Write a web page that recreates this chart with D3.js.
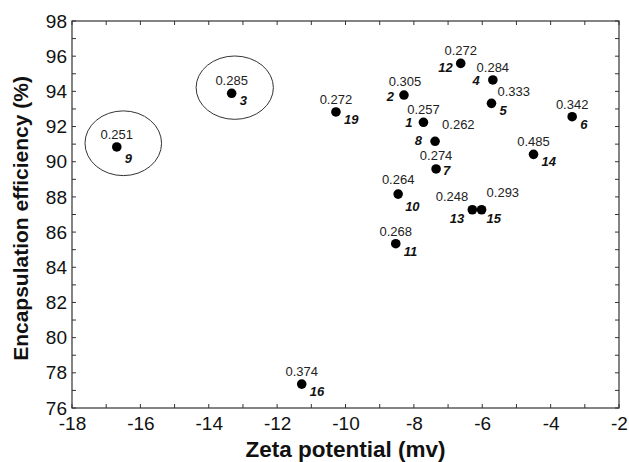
<!DOCTYPE html>
<html>
<head>
<meta charset="utf-8">
<script src="https://cdn.jsdelivr.net/npm/d3@7"></script>
<style>
  body { margin: 0; background: #fff; }
  svg { display: block; font-family: "Liberation Sans", Arial, sans-serif; }
  .frame { fill: none; stroke: #333; stroke-width: 1.2; }
  .tick line { stroke: #333; }
  .tick text { fill: #111; font-size: 19px; }
  .domain { display: none; }
  .pdi { font-size: 13px; fill: #222; }
  .sample { font-size: 13px; font-weight: bold; font-style: italic; fill: #111; }
  .title { font-weight: bold; fill: #111; }
</style>
</head>
<body>
<div id="chart"></div>
<script>
// sample numbers, zeta potential (mv), encapsulation efficiency (%), PDI
const samples = [1, 2, 3, 4, 5, 6, 7, 8, 9, 10, 11, 12, 13, 14, 15, 16, 19];
const zeta = [-7.72, -8.29, -13.33, -5.69, -5.73, -3.37, -7.35, -7.38, -16.69, -8.46, -8.53, -6.63, -6.29, -4.50, -6.02, -11.28, -10.28];
const efficiency = [92.24, 93.79, 93.89, 94.65, 93.32, 92.56, 89.59, 91.16, 90.84, 88.16, 85.34, 95.59, 87.27, 90.42, 87.27, 77.36, 92.83];
const pdi = ["0.257", "0.305", "0.285", "0.284", "0.333", "0.342", "0.274", "0.262", "0.251", "0.264", "0.268", "0.272", "0.248", "0.485", "0.293", "0.374", "0.272"];

// circled samples (ellipse centre and radii in axis units)
const circled = [9, 3];
const circleCx = [-16.5, -13.24];
const circleCy = [91.05, 94.21];
const circleRx = [1.12, 1.13];
const circleRy = [1.84, 1.80];

const xTicks = [-18, -16, -14, -12, -10, -8, -6, -4, -2];
const yTicks = [76, 78, 80, 82, 84, 86, 88, 90, 92, 94, 96, 98];

// label placement around each dot: [anchor, dx, dy] for pdi and sample number
const pdiPos = {
  2: ["middle", 1, -9], 5: ["start", 6, -7], 8: ["start", 7, -12], 13: ["end", -4, -9],
  15: ["start", 5, -13], 10: ["middle", 0, -10], 7: ["middle", 0, -9]
};
const numPos = {
  12: ["end", -8, 9], 4: ["end", -13, 5], 2: ["end", -10, 6], 1: ["end", -11, 5],
  8: ["end", -13, 4], 13: ["end", -8, 13], 15: ["start", 5, 13],
  9: ["start", 8, 16], 10: ["start", 7, 17], 7: ["start", 7, 6]
};

const width = 629, height = 462;
const margin = {top: 21, right: 10, bottom: 54, left: 72};

const svg = d3.select("#chart").append("svg")
  .attr("width", width)
  .attr("height", height);

const x = d3.scaleLinear().domain([-18, -2]).range([margin.left, width - margin.right]);
const y = d3.scaleLinear().domain([76, 98]).range([height - margin.bottom, margin.top]);

const x0 = x.range()[0], x1 = x.range()[1];
const y0 = y.range()[0], y1 = y.range()[1];

// minor ticks every unit on all four sides, pointing inward
const xMinor = d3.range(-18, -1, 1);
const yMinor = d3.range(76, 99, 1);
const tickLen = 4;

svg.append("g")
  .attr("class", "tick")
  .selectAll("g")
  .data(xMinor)
  .join(enter => {
    const g = enter.append("g");
    g.append("line").attr("x1", d => x(d)).attr("x2", d => x(d)).attr("y1", y0).attr("y2", y0 - tickLen);
    g.append("line").attr("x1", d => x(d)).attr("x2", d => x(d)).attr("y1", y1).attr("y2", y1 + tickLen);
    return g;
  });

svg.append("g")
  .attr("class", "tick")
  .selectAll("g")
  .data(yMinor)
  .join(enter => {
    const g = enter.append("g");
    g.append("line").attr("x1", x0).attr("x2", x0 + tickLen).attr("y1", d => y(d)).attr("y2", d => y(d));
    g.append("line").attr("x1", x1).attr("x2", x1 - tickLen).attr("y1", d => y(d)).attr("y2", d => y(d));
    return g;
  });

// tick labels through the axis generators (plain hyphen minus as in the original)
svg.append("g")
  .attr("transform", `translate(0,${y0})`)
  .call(d3.axisBottom(x).tickValues(xTicks).tickSize(0).tickPadding(9).tickFormat(d => String(d)))
  .call(g => g.selectAll(".tick text").attr("dy", "0.71em"));

svg.append("g")
  .attr("transform", `translate(${x0},0)`)
  .call(d3.axisLeft(y).tickValues(yTicks).tickSize(0).tickPadding(5).tickFormat(d => String(d)));

svg.append("rect")
  .attr("class", "frame")
  .attr("x", x0).attr("y", y1)
  .attr("width", x1 - x0).attr("height", y0 - y1);

// ellipses around the outlying samples
svg.append("g")
  .selectAll("ellipse")
  .data(circled.map((s, i) => i))
  .join("ellipse")
  .attr("cx", i => x(circleCx[i]))
  .attr("cy", i => y(circleCy[i]))
  .attr("rx", i => x(circleCx[i] + circleRx[i]) - x(circleCx[i]))
  .attr("ry", i => y(circleCy[i]) - y(circleCy[i] + circleRy[i]))
  .attr("fill", "none")
  .attr("stroke", "#333")
  .attr("stroke-width", 1);

const I = d3.range(samples.length);

svg.append("g")
  .selectAll("circle")
  .data(I)
  .join("circle")
  .attr("cx", i => x(zeta[i]))
  .attr("cy", i => y(efficiency[i]))
  .attr("r", 4.8)
  .attr("fill", "#000");

svg.append("g")
  .selectAll("text")
  .data(I)
  .join("text")
  .attr("class", "pdi")
  .each(function(i) {
    const p = pdiPos[samples[i]] || ["middle", 0, -8];
    d3.select(this)
      .attr("text-anchor", p[0])
      .attr("x", x(zeta[i]) + p[1])
      .attr("y", y(efficiency[i]) + p[2]);
  })
  .text(i => pdi[i]);

svg.append("g")
  .selectAll("text")
  .data(I)
  .join("text")
  .attr("class", "sample")
  .each(function(i) {
    const p = numPos[samples[i]] || ["start", 8, 12];
    d3.select(this)
      .attr("text-anchor", p[0])
      .attr("x", x(zeta[i]) + p[1])
      .attr("y", y(efficiency[i]) + p[2]);
  })
  .text(i => samples[i]);

// axis titles
svg.append("text")
  .attr("class", "title")
  .attr("text-anchor", "middle")
  .attr("x", (x0 + x1) / 2)
  .attr("y", 457)
  .style("font-size", "22.5px")
  .text("Zeta potential (mv)");

svg.append("text")
  .attr("class", "title")
  .attr("text-anchor", "middle")
  .attr("transform", `translate(28,${(y0 + y1) / 2 + 4}) rotate(-90)`)
  .style("font-size", "21px")
  .text("Encapsulation efficiency (%)");
</script>
</body>
</html>
